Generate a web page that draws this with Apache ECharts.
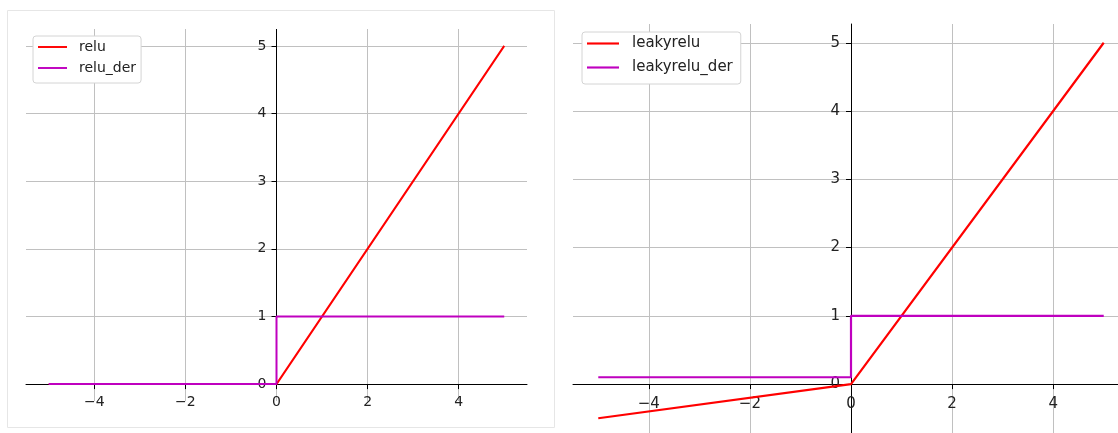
<!DOCTYPE html>
<html>
<head>
<meta charset="utf-8">
<style>
html, body { margin: 0; padding: 0; background: #fff; }
#chart { width: 1118px; height: 433px; }
</style>
<script src="https://cdn.jsdelivr.net/npm/echarts@6/dist/echarts.min.js"></script>
</head>
<body>
<div id="chart"></div>
<script>
// breakpoints of the curves
var xs = [-5, 0, 5];
var relu = [0, 0, 5];
var leakyrelu = [-0.5, 0, 5];
var derXs = [-5, 0, 0, 5];
var reluDer = [0, 0, 1, 1];
var leakyreluDer = [0.1, 0.1, 1, 1];

var xTicks = [-4, -2, 0, 2, 4];
var yTicks = [0, 1, 2, 3, 4, 5];

var xRange = [-5.5, 5.5];
var yRangeL = [-0.25, 5.25];
var yRangeR = [-0.775, 5.275];

var FONT = 'DejaVu Sans';
var RED = '#ff0000';
var MAG = '#bf00bf';
var GRID = '#c0c0c0';
var LINE_ICON = 'path://M0,0H30V2H0Z';

var grids = [
    { left: 26, top: 29, width: 501, height: 372, outerBoundsMode: 'none', containLabel: false },
    { left: 573, top: 24, width: 556, height: 413, outerBoundsMode: 'none', containLabel: false }
];

function pairs(a, b) {
    return a.map(function (v, i) { return [v, b[i]]; });
}

function minusFmt(v) {
    return String(v).replace('-', '\u2212');
}

// where zero sits inside a range, as a fraction from the min end
function zeroFrac(r) {
    return (0 - r[0]) / (r[1] - r[0]);
}

function gridLines(extra) {
    var data = [];
    xTicks.forEach(function (v) { data.push({ xAxis: v }); });
    yTicks.forEach(function (v) { data.push({ yAxis: v }); });
    return {
        silent: true,
        animation: false,
        z: 0,
        symbol: ['none', 'none'],
        label: { show: false },
        lineStyle: { color: GRID, width: 1, type: 'solid' },
        emphasis: { disabled: true },
        data: data.concat(extra || [])
    };
}

// x axis drawn through y = 0 (shifted up from the grid bottom)
function xAxisOf(idx, yr, size, margin) {
    return {
        type: 'value', gridIndex: idx, min: xRange[0], max: xRange[1], z: 1,
        position: 'bottom',
        offset: -zeroFrac(yr) * grids[idx].height,
        splitLine: { show: false },
        axisLine: { onZero: false, lineStyle: { color: '#000', width: 1 } },
        axisTick: { customValues: xTicks, length: 5, lineStyle: { color: '#000', width: 1 } },
        axisLabel: { customValues: xTicks, formatter: minusFmt, margin: margin,
            fontFamily: FONT, fontSize: size, color: '#222' }
    };
}

// y axis drawn through x = 0 (shifted right from the grid left)
function yAxisOf(idx, yr, size, margin, lineColor) {
    return {
        type: 'value', gridIndex: idx, min: yr[0], max: yr[1], z: 1,
        position: 'left',
        offset: -zeroFrac(xRange) * grids[idx].width,
        splitLine: { show: false },
        axisLine: { onZero: false, lineStyle: { color: lineColor, width: 1 } },
        axisTick: { customValues: yTicks, length: 5, lineStyle: { color: '#000', width: 1 } },
        axisLabel: { customValues: yTicks, margin: margin,
            fontFamily: FONT, fontSize: size, color: '#222' }
    };
}

var chart = echarts.init(document.getElementById('chart'));

var option = {
    animation: false,
    backgroundColor: '#fff',
    graphic: [{
        type: 'rect', z: -10, silent: true,
        shape: { x: 7.5, y: 10.5, width: 547, height: 417 },
        style: { fill: 'none', stroke: '#e6e6e6', lineWidth: 1 }
    }],
    grid: grids,
    xAxis: [xAxisOf(0, yRangeL, 14, 11), xAxisOf(1, yRangeR, 15, 13)],
    yAxis: [
        yAxisOf(0, yRangeL, 14, 10, 'rgba(0,0,0,0)'),
        yAxisOf(1, yRangeR, 15, 11, '#000')
    ],
    legend: [{
        data: ['relu', 'relu_der'],
        icon: LINE_ICON,
        orient: 'vertical', left: 33, top: 36,
        padding: [4, 5, 8, 5], itemGap: 7,
        itemWidth: 29, itemHeight: 14,
        backgroundColor: '#fff', borderColor: '#d4d4d4', borderWidth: 1, borderRadius: 3,
        textStyle: { fontFamily: FONT, fontSize: 14, color: '#222', lineHeight: 14, padding: [0, 0, 0, 7] }
    }, {
        data: ['leakyrelu', 'leakyrelu_der'],
        icon: LINE_ICON,
        orient: 'vertical', left: 582, top: 32,
        padding: [4, 8, 9, 5], itemGap: 9,
        itemWidth: 32, itemHeight: 15,
        backgroundColor: '#fff', borderColor: '#d4d4d4', borderWidth: 1, borderRadius: 3,
        textStyle: { fontFamily: FONT, fontSize: 15, color: '#222', lineHeight: 15, padding: [0, 0, 0, 8] }
    }],
    series: [{
        name: 'relu', type: 'line', xAxisIndex: 0, yAxisIndex: 0,
        data: pairs(xs, relu), symbol: 'none', color: RED,
        lineStyle: { width: 2 },
        markLine: gridLines([[
            { coord: [0, 0], lineStyle: { color: '#000', width: 1 } },
            { coord: [0, yRangeL[1]] }
        ]])
    }, {
        name: 'relu_der', type: 'line', xAxisIndex: 0, yAxisIndex: 0,
        data: pairs(derXs, reluDer), symbol: 'none', color: MAG,
        lineStyle: { width: 2 }
    }, {
        name: 'leakyrelu', type: 'line', xAxisIndex: 1, yAxisIndex: 1,
        data: pairs(xs, leakyrelu), symbol: 'none', color: RED,
        lineStyle: { width: 2.2 },
        markLine: gridLines()
    }, {
        name: 'leakyrelu_der', type: 'line', xAxisIndex: 1, yAxisIndex: 1,
        data: pairs(derXs, leakyreluDer), symbol: 'none', color: MAG,
        lineStyle: { width: 2.2 }
    }]
};

chart.setOption(option);
</script>
</body>
</html>
